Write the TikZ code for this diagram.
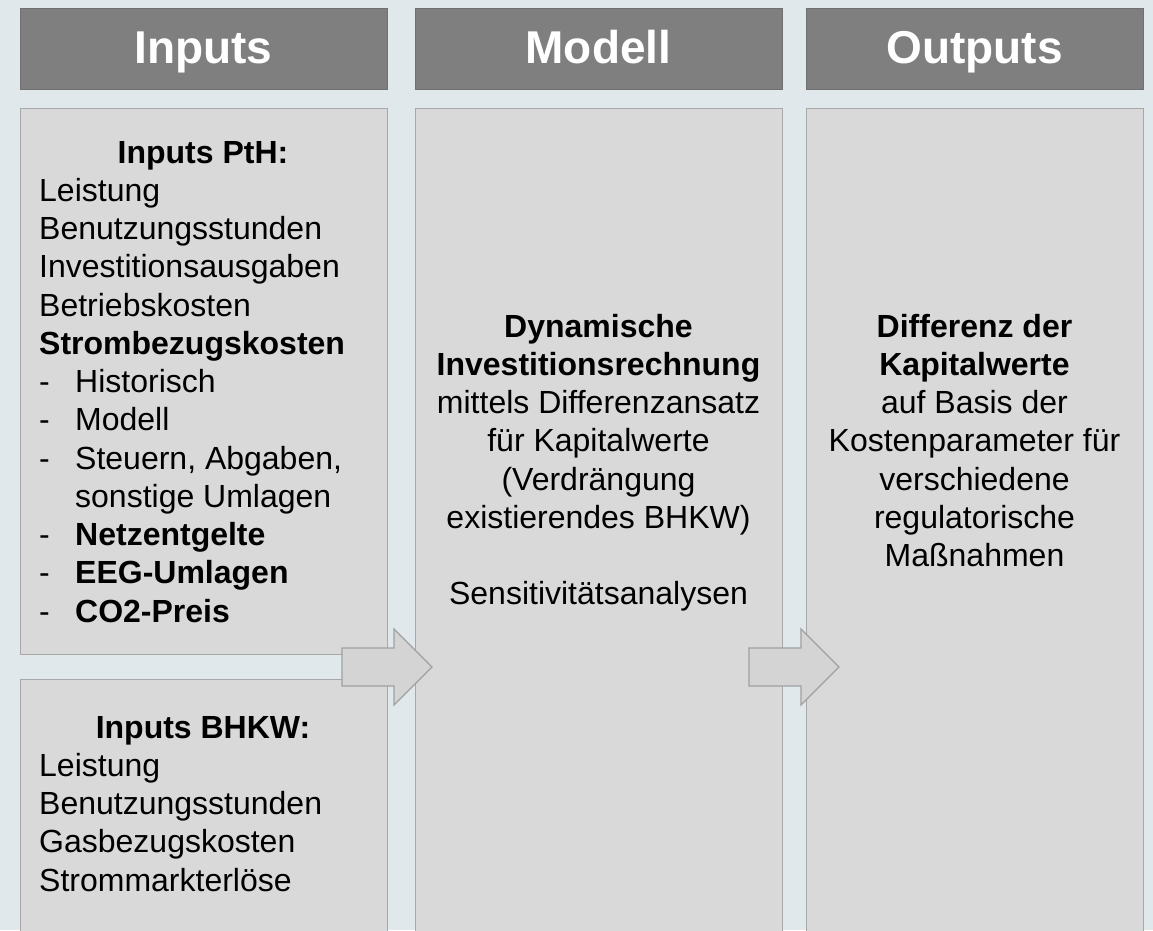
\documentclass[tikz,border=0pt]{standalone}
\usepackage{fontspec}
\setmainfont{Liberation Sans}
\definecolor{bgc}{RGB}{224,232,236}
\definecolor{hdfill}{RGB}{127,127,127}
\definecolor{hddraw}{RGB}{112,112,112}
\definecolor{bxfill}{RGB}{217,217,217}
\definecolor{bxdraw}{RGB}{168,168,168}
\definecolor{arfill}{RGB}{212,212,212}
\definecolor{ardraw}{RGB}{160,160,160}
\tikzset{
  header/.style={draw=hddraw, fill=hdfill, line width=1.2pt, anchor=north west, inner sep=0pt},
  colbox/.style={draw=bxdraw, fill=bxfill, line width=1.2pt, anchor=north west, inner sep=0pt},
  htext/.style={anchor=base, inner sep=0pt, text=white, font=\fontsize{46}{50}\selectfont\bfseries},
  lt/.style={anchor=base west, inner sep=0pt, font=\fontsize{32}{38.25}\selectfont},
  ct/.style={anchor=base, inner sep=0pt, font=\fontsize{32}{38.25}\selectfont},
  blockarrow/.style={draw=ardraw, fill=arfill, line width=1.2pt, line join=miter}
}
\begin{document}
\begin{tikzpicture}[x=1pt, y=-1pt]
\useasboundingbox (0,0) rectangle (1153,930);
\fill[bgc] (0,0) rectangle (1153,930);

% headers
\node[header, minimum width=367pt, minimum height=81pt] (h1) at (20,8) {};
\node[header, minimum width=367pt, minimum height=81pt] (h2) at (415,8) {};
\node[header, minimum width=337pt, minimum height=81pt] (h3) at (806,8) {};
\node[htext] (h1t) at (203.5,63) {Inputs};
\node[htext] (h2t) at (598.5,63) {Modell};
\node[htext] (h3t) at (974.5,63) {Outputs};

% boxes
\node[colbox, minimum width=367pt, minimum height=546pt] (pth) at (20,108) {};
\node[colbox, minimum width=367pt, minimum height=270pt] (bhkw) at (20,679) {};
\node[colbox, minimum width=367pt, minimum height=840pt] (model) at (415,108) {};
\node[colbox, minimum width=337pt, minimum height=840pt] (out) at (806,108) {};

% Inputs PtH text
\node[ct] (p0) at (203,163) {\bfseries Inputs PtH:};
\node[lt] (p1) at (39,201.25) {Leistung};
\node[lt] (p2) at (39,239.5) {Benutzungsstunden};
\node[lt] (p3) at (39,277.75) {Investitionsausgaben};
\node[lt] (p4) at (39,316) {Betriebskosten};
\node[lt] (p5) at (39,354.25) {\bfseries Strombezugskosten};
\node[lt] (d6) at (39,392.5) {-};
\node[lt] (p6) at (75,392.5) {Historisch};
\node[lt] (d7) at (39,430.75) {-};
\node[lt] (p7) at (75,430.75) {Modell};
\node[lt] (d8) at (39,469) {-};
\node[lt] (p8) at (75,469) {Steuern, Abgaben,};
\node[lt] (p9) at (75,507.25) {sonstige Umlagen};
\node[lt] (d10) at (39,545.5) {-};
\node[lt] (p10) at (75,545.5) {\bfseries Netzentgelte};
\node[lt] (d11) at (39,583.75) {-};
\node[lt] (p11) at (75,583.75) {\bfseries EEG-Umlagen};
\node[lt] (d12) at (39,622) {-};
\node[lt] (p12) at (75,622) {\bfseries CO2-Preis};

% Inputs BHKW text
\node[ct] (b0) at (203,738) {\bfseries Inputs BHKW:};
\node[lt] (b1) at (39,776.25) {Leistung};
\node[lt] (b2) at (39,814.5) {Benutzungsstunden};
\node[lt] (b3) at (39,852.75) {Gasbezugskosten};
\node[lt] (b4) at (39,891) {Strommarkterlöse};

% Modell text
\node[ct] (m1) at (598.5,337) {\bfseries Dynamische};
\node[ct] (m2) at (598.5,375.25) {\bfseries Investitionsrechnung};
\node[ct] (m3) at (598.5,413.5) {mittels Differenzansatz};
\node[ct] (m4) at (598.5,451.75) {für Kapitalwerte};
\node[ct] (m5) at (598.5,490) {(Verdrängung};
\node[ct] (m6) at (598.5,528.25) {existierendes BHKW)};
\node[ct] (m7) at (598.5,604.75) {Sensitivitätsanalysen};

% Outputs text
\node[ct] (o1) at (974.5,337) {\bfseries Differenz der};
\node[ct] (o2) at (974.5,375.25) {\bfseries Kapitalwerte};
\node[ct] (o3) at (974.5,413.5) {auf Basis der};
\node[ct] (o4) at (974.5,451.75) {Kostenparameter für};
\node[ct] (o5) at (974.5,490) {verschiedene};
\node[ct] (o6) at (974.5,528.25) {regulatorische};
\node[ct] (o7) at (974.5,566.5) {Maßnahmen};

% block arrows
\draw[blockarrow] (342,648) -- (394,648) -- (394,629) -- (432,667) -- (394,705) -- (394,686) -- (342,686) -- cycle;
\draw[blockarrow] (749,648) -- (801,648) -- (801,629) -- (839,667) -- (801,705) -- (801,686) -- (749,686) -- cycle;
\end{tikzpicture}
\end{document}
